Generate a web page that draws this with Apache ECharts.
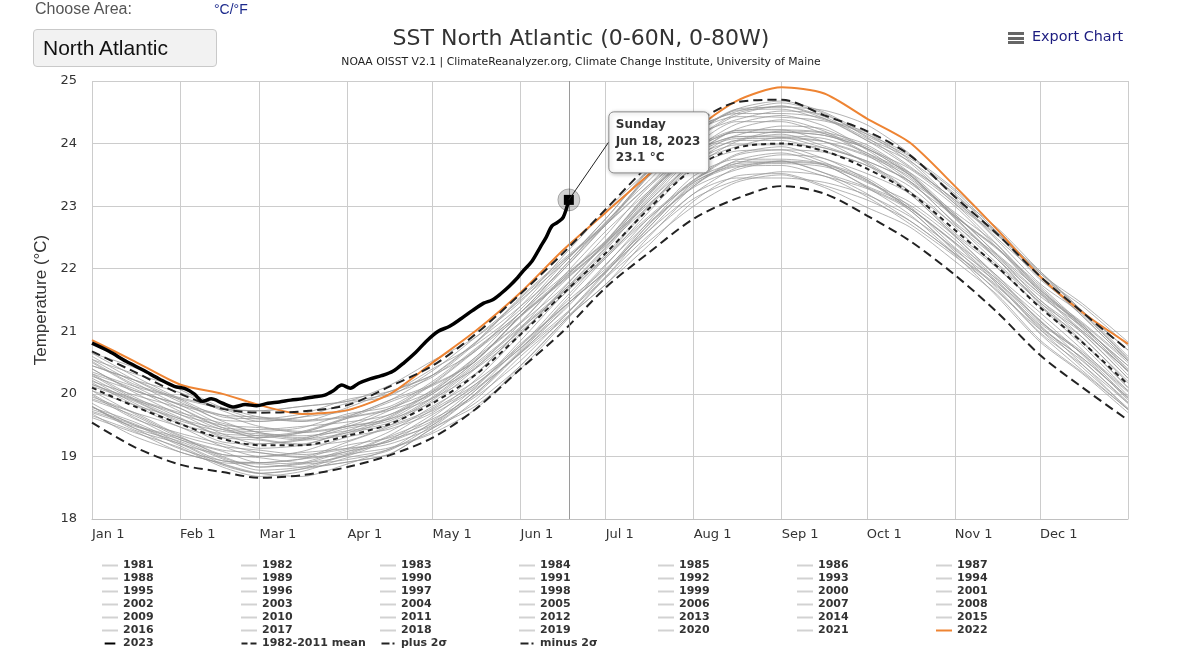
<!DOCTYPE html>
<html><head><meta charset="utf-8">
<script src="https://cdn.jsdelivr.net/npm/echarts@6/dist/echarts.min.js"></script>
<style>
html,body{margin:0;padding:0;background:#fff;}
#wrap{position:relative;width:1200px;height:660px;overflow:hidden;}
#chart{position:absolute;left:0;top:0;width:1200px;height:660px;}
.ui{position:absolute;font-family:"Liberation Sans",Arial,sans-serif;white-space:nowrap;}
.bar{position:absolute;left:0;width:16px;height:3px;background:#666;}
</style></head>
<body><div id="wrap"><div id="chart"></div>
<div class="ui" style="left:35px;top:0px;font-size:16px;color:#555;">Choose Area:</div>
<div class="ui" style="left:214px;top:1px;font-size:14px;color:#1c2a8c;">°C/°F</div>
<div class="ui" style="left:33px;top:29px;width:184px;height:38px;box-sizing:border-box;border:1px solid #c9c9c9;border-radius:4px;background:#f2f2f2;font-size:21px;color:#111;line-height:36px;padding-left:9px;">North Atlantic</div>
<div class="ui" style="left:1008px;top:32px;width:16px;height:12px;"><div class="bar" style="top:0"></div><div class="bar" style="top:4.5px"></div><div class="bar" style="top:9px"></div></div>
<div class="ui" style="left:1032px;top:28px;font-size:14.4px;color:#1c1c80;font-family:'DejaVu Sans';">Export Chart</div>
</div>
<script>
// ---- axis data ----
const monthStarts = [0,31,59,90,120,151,181,212,243,273,304,334];
const monthLabels = ['Jan 1','Feb 1','Mar 1','Apr 1','May 1','Jun 1','Jul 1','Aug 1','Sep 1','Oct 1','Nov 1','Dec 1'];
const yTicks = [18,19,20,21,22,23,24,25];

// ---- sample days (day of year, 0 = Jan 1) for climatology / past years ----
const days = [0,15,31,46,59,74,90,105,120,135,151,166,181,196,212,227,243,258,273,288,304,319,334,349,365];

const mean8211 = [20.10,19.80,19.52,19.28,19.18,19.18,19.33,19.52,19.85,20.30,20.95,21.60,22.25,22.95,23.60,23.93,24.00,23.88,23.60,23.22,22.62,22.03,21.38,20.82,20.15];
const plus2s   = [20.68,20.35,20.00,19.76,19.70,19.72,19.82,20.12,20.45,20.95,21.60,22.25,22.95,23.65,24.30,24.66,24.70,24.45,24.20,23.82,23.15,22.55,21.88,21.30,20.70];
const minus2s  = [19.54,19.15,18.87,18.75,18.66,18.70,18.83,19.02,19.30,19.75,20.40,21.00,21.70,22.25,22.80,23.12,23.32,23.20,22.85,22.45,21.90,21.30,20.62,20.10,19.58];

const sst1981 = [19.80,19.45,19.24,18.96,18.78,18.83,19.03,19.14,19.40,19.90,20.60,21.18,21.75,22.50,23.20,23.45,23.45,23.38,23.18,22.84,22.32,21.68,20.98,20.46,19.85];
const sst1982 = [19.65,19.40,19.07,18.90,18.88,18.83,18.91,19.04,19.45,19.80,20.40,21.12,21.85,22.43,23.00,23.38,23.50,23.30,22.98,22.67,22.12,21.58,20.86,20.34,19.75];
const sst1983 = [19.72,19.50,19.17,18.86,18.73,18.80,19.03,19.27,19.50,20.00,20.67,21.25,21.87,22.65,23.35,23.63,23.65,23.48,23.28,22.94,22.27,21.63,21.03,20.52,19.87];
const sst1984 = [19.80,19.45,19.12,18.93,18.90,18.88,18.95,19.10,19.50,20.05,20.65,21.22,21.93,22.70,23.30,23.58,23.72,23.66,23.30,22.87,22.24,21.71,21.10,20.47,19.75];
const sst1985 = [19.68,19.32,19.07,18.88,18.73,18.68,18.88,19.12,19.37,19.75,20.45,21.15,21.75,22.37,23.08,23.48,23.52,23.33,23.10,22.77,22.22,21.55,20.83,20.32,19.70];
const sst1986 = [19.62,19.38,19.14,18.83,18.68,18.76,18.98,19.12,19.55,19.95,20.53,21.22,21.95,22.60,23.20,23.61,23.72,23.53,23.20,22.77,22.24,21.73,21.03,20.42,19.77];
const sst1987 = [19.75,19.52,19.20,19.03,18.98,18.90,19.01,19.27,19.67,20.08,20.65,21.35,22.07,22.73,23.32,23.73,23.85,23.66,23.32,23.02,22.47,21.81,21.13,20.64,19.93];
const sst1988 = [19.85,19.50,19.30,19.00,18.83,18.88,19.08,19.20,19.47,20.00,20.70,21.42,22.00,22.65,23.38,23.65,23.68,23.63,23.40,22.94,22.30,21.78,21.18,20.54,19.85];
const sst1989 = [19.78,19.55,19.22,18.93,18.90,18.96,19.05,19.32,19.60,19.98,20.67,21.38,21.95,22.70,23.42,23.68,23.70,23.66,23.42,22.97,22.40,21.75,21.06,20.57,19.95];
const sst1990 = [19.90,19.65,19.30,19.10,19.06,18.98,19.08,19.34,19.75,20.15,20.73,21.45,22.17,22.80,23.40,23.81,23.90,23.70,23.38,23.07,22.52,21.85,21.16,20.67,20.05];
const sst1991 = [20.00,19.62,19.27,19.08,18.90,18.96,19.18,19.30,19.57,20.10,20.80,21.38,21.97,22.75,23.48,23.75,23.75,23.68,23.45,23.00,22.34,21.83,21.23,20.62,19.90];
const sst1992 = [19.80,19.42,19.20,18.88,18.73,18.80,18.91,19.04,19.45,19.85,20.45,21.15,21.87,22.53,23.12,23.41,23.55,23.48,23.15,22.72,22.20,21.65,20.96,20.37,19.75];
const sst1993 = [19.70,19.48,19.27,18.98,18.83,18.90,19.11,19.24,19.53,20.05,20.77,21.38,21.95,22.60,23.32,23.71,23.72,23.53,23.30,22.97,22.42,21.78,21.08,20.57,19.93];
const sst1994 = [19.95,19.70,19.34,19.16,19.10,19.03,19.13,19.40,19.80,20.20,20.77,21.50,22.20,22.83,23.42,23.83,23.95,23.76,23.52,23.20,22.52,21.88,21.30,20.70,19.97];
const sst1995 = [19.98,19.60,19.37,19.20,19.06,19.00,19.23,19.47,19.73,20.12,20.85,21.58,22.17,22.90,23.62,23.88,23.90,23.86,23.65,23.20,22.54,22.01,21.40,20.77,20.05];
const sst1996 = [20.05,19.68,19.32,19.03,19.00,19.06,19.13,19.24,19.63,20.15,20.73,21.32,22.05,22.80,23.38,23.68,23.82,23.76,23.42,22.97,22.42,21.88,21.16,20.64,20.03];
const sst1997 = [19.92,19.70,19.47,19.16,19.00,19.08,19.31,19.44,19.70,20.22,20.95,21.65,22.23,23.00,23.70,23.98,23.98,23.93,23.70,23.24,22.57,22.05,21.46,20.84,20.10];
const sst1998 = [20.15,19.90,19.67,19.36,19.20,19.28,19.48,19.60,19.87,20.40,21.13,21.85,22.43,23.07,23.80,24.21,24.22,24.03,23.80,23.47,22.80,22.15,21.46,20.97,20.25];
const sst1999 = [20.18,19.82,19.47,19.30,19.26,19.18,19.25,19.50,19.90,20.42,21.00,21.58,22.30,23.07,23.68,23.95,24.10,24.03,23.68,23.24,22.70,22.15,21.43,20.82,20.10];
const sst2000 = [20.05,19.82,19.60,19.30,19.13,19.18,19.38,19.50,19.77,20.30,21.03,21.62,22.20,22.97,23.68,24.05,24.05,23.88,23.65,23.32,22.67,22.01,21.40,20.90,20.17];
const sst2001 = [20.12,19.88,19.54,19.23,19.20,19.26,19.45,19.57,19.95,20.48,21.07,21.65,22.35,23.13,23.85,24.11,24.12,24.08,23.85,23.40,22.74,22.21,21.60,20.97,20.25];
const sst2002 = [20.25,19.90,19.57,19.40,19.36,19.28,19.38,19.64,20.03,20.40,20.97,21.68,22.40,23.03,23.62,24.03,24.15,23.96,23.72,23.40,22.72,22.08,21.50,20.90,20.20];
const sst2003 = [20.15,19.92,19.70,19.53,19.38,19.30,19.51,19.77,20.05,20.58,21.30,21.88,22.45,23.23,23.95,24.35,24.35,24.16,23.95,23.52,22.84,22.31,21.70,21.07,20.35];
const sst2004 = [20.32,19.95,19.62,19.33,19.30,19.38,19.48,19.60,20.00,20.52,21.23,21.80,22.40,23.17,23.90,24.18,24.18,24.13,23.92,23.50,22.82,22.18,21.60,21.10,20.37];
const sst2005 = [20.28,20.05,19.82,19.50,19.33,19.40,19.63,19.90,20.15,20.52,21.25,21.98,22.70,23.33,23.90,24.31,24.45,24.28,23.92,23.60,23.04,22.38,21.66,21.14,20.53];
const sst2006 = [20.40,20.02,19.67,19.50,19.46,19.38,19.48,19.74,20.15,20.68,21.25,21.82,22.53,23.30,23.88,24.13,24.28,24.23,23.90,23.44,22.90,22.38,21.68,21.07,20.45];
const sst2007 = [20.30,19.92,19.60,19.43,19.28,19.20,19.41,19.67,19.93,20.32,21.05,21.78,22.37,23.00,23.72,24.11,24.10,23.93,23.72,23.40,22.87,22.21,21.50,21.00,20.37];
const sst2008 = [20.20,19.98,19.77,19.46,19.30,19.38,19.61,19.74,20.00,20.52,21.25,21.85,22.43,23.20,23.92,24.21,24.22,24.18,23.98,23.54,22.87,22.23,21.66,21.04,20.30];
const sst2009 = [20.22,19.85,19.52,19.36,19.33,19.26,19.35,19.62,20.03,20.55,21.13,21.70,22.43,23.20,23.80,24.05,24.20,24.16,23.82,23.37,22.84,22.33,21.63,21.00,20.37];
const sst2010 = [20.35,20.12,19.92,19.76,19.60,19.68,19.91,20.04,20.30,20.82,21.55,22.15,22.73,23.50,24.22,24.48,24.48,24.40,24.05,23.62,23.10,22.45,21.76,21.27,20.55];
const sst2011 = [20.50,20.12,19.77,19.46,19.43,19.48,19.55,19.67,20.07,20.58,21.15,21.88,22.60,23.23,23.82,24.23,24.38,24.20,23.85,23.54,23.00,22.33,21.63,21.12,20.50];
const sst2012 = [20.45,20.22,19.90,19.58,19.56,19.63,19.73,20.00,20.40,20.78,21.35,22.08,22.80,23.55,24.12,24.38,24.52,24.46,24.10,23.64,23.10,22.58,21.86,21.24,20.53];
const sst2013 = [20.40,20.05,19.84,19.66,19.48,19.40,19.61,19.87,20.13,20.52,21.25,21.82,22.40,23.17,23.90,24.18,24.18,24.13,23.92,23.50,22.84,22.33,21.73,21.10,20.40];
const sst2014 = [20.32,20.08,19.72,19.43,19.40,19.46,19.68,19.80,20.20,20.72,21.30,22.02,22.75,23.40,24.12,24.53,24.55,24.38,24.18,23.74,23.07,22.55,21.96,21.32,20.60];
const sst2015 = [20.55,20.18,19.82,19.66,19.63,19.58,19.65,19.90,20.30,20.82,21.40,21.98,22.70,23.47,24.05,24.45,24.60,24.43,24.08,23.77,23.24,22.58,21.88,21.40,20.77];
const sst2016 = [20.65,20.42,20.07,19.76,19.73,19.80,19.88,20.00,20.27,20.80,21.53,22.12,22.70,23.47,24.18,24.43,24.42,24.36,24.15,23.70,23.04,22.53,21.93,21.30,20.57];
const sst2017 = [20.52,20.15,19.94,19.78,19.63,19.56,19.78,20.04,20.30,20.68,21.40,22.12,22.70,23.33,24.05,24.48,24.60,24.40,24.05,23.72,23.20,22.55,21.83,21.32,20.70];
const sst2018 = [20.60,20.22,19.87,19.56,19.38,19.33,19.41,19.54,19.93,20.45,21.05,21.62,22.33,23.10,23.82,24.08,24.08,24.03,23.82,23.50,22.82,22.15,21.56,21.07,20.45];
const sst2019 = [20.45,20.22,20.02,19.73,19.56,19.63,19.85,19.97,20.37,20.90,21.50,22.08,22.80,23.57,24.15,24.55,24.68,24.50,24.15,23.82,23.14,22.48,21.88,21.24,20.53];
const sst2020 = [20.55,20.32,20.10,19.78,19.73,19.80,19.88,20.14,20.53,20.90,21.47,22.20,22.93,23.57,24.15,24.55,24.58,24.53,24.30,23.84,23.17,22.65,21.96,21.32,20.70];
const sst2021 = [20.65,20.28,19.92,19.63,19.60,19.56,19.63,19.77,20.17,20.70,21.30,22.02,22.73,23.50,24.22,24.51,24.65,24.48,24.12,23.80,23.27,22.63,21.93,21.44,20.83];
const sst2022 = [20.86,20.52,20.15,20.00,19.82,19.68,19.74,20.00,20.50,21.00,21.62,22.30,22.90,23.50,24.20,24.68,24.90,24.80,24.40,24.02,23.32,22.62,21.88,21.30,20.80];

// ---- 2023 (to Jun 18) ----
const days2023 = [0,6,12,18,24,29,33,36,39,42,46,50,54,58,62,66,70,74,78,82,85,88,91,94,98,102,106,110,114,118,122,126,130,134,138,141,144,147,150,152,155,158,160,162,164,166,168];
const sst2023  = [20.81,20.68,20.52,20.38,20.23,20.12,20.08,20.00,19.88,19.92,19.85,19.79,19.83,19.81,19.85,19.87,19.90,19.92,19.95,19.98,20.05,20.14,20.09,20.17,20.24,20.29,20.36,20.50,20.66,20.85,21.00,21.08,21.20,21.33,21.45,21.50,21.60,21.72,21.86,21.97,22.12,22.35,22.50,22.68,22.74,22.82,23.10];

const greyNames = [];
for (let y = 1981; y <= 2021; y++) greyNames.push(String(y));
const greyValues = [sst1981,sst1982,sst1983,sst1984,sst1985,sst1986,sst1987,sst1988,sst1989,sst1990,
  sst1991,sst1992,sst1993,sst1994,sst1995,sst1996,sst1997,sst1998,sst1999,sst2000,
  sst2001,sst2002,sst2003,sst2004,sst2005,sst2006,sst2007,sst2008,sst2009,sst2010,
  sst2011,sst2012,sst2013,sst2014,sst2015,sst2016,sst2017,sst2018,sst2019,sst2020,sst2021];

const FONT = '"DejaVu Sans", "Lucida Grande", sans-serif';
const pair = (xs, ys) => xs.map((d, i) => [d, ys[i]]);

const series = [];
greyNames.forEach((name, i) => {
  series.push({
    name, type: 'line', data: pair(days, greyValues[i]), symbol: 'none', smooth: 0.25,
    silent: true, z: 2,
    itemStyle: { color: '#d2d2d2' },
    lineStyle: { width: 1, color: 'rgba(150,150,150,0.72)' }
  });
});
series.push({ name: '2022', type: 'line', data: pair(days, sst2022), symbol: 'none', smooth: 0.25, silent: true, z: 3,
  itemStyle: { color: '#ee8433' }, lineStyle: { width: 2, color: '#ee8433' } });
series.push({ name: '1982-2011 mean', type: 'line', data: pair(days, mean8211), symbol: 'none', smooth: 0.3, silent: true, z: 4,
  itemStyle: { color: '#222' }, lineStyle: { width: 2, color: '#222', type: [5, 4] } });
series.push({ name: 'plus 2σ', type: 'line', data: pair(days, plus2s), symbol: 'none', smooth: 0.3, silent: true, z: 4,
  itemStyle: { color: '#222' }, lineStyle: { width: 2, color: '#222', type: [9, 5] } });
series.push({ name: 'minus 2σ', type: 'line', data: pair(days, minus2s), symbol: 'none', smooth: 0.3, silent: true, z: 4,
  itemStyle: { color: '#222' }, lineStyle: { width: 2, color: '#222', type: [9, 5] } });

const lastDay = days2023[days2023.length - 1];
const lastVal = sst2023[sst2023.length - 1];
series.push({ name: '2023', type: 'line', data: pair(days2023, sst2023), symbol: 'none', smooth: 0.3, silent: true, z: 6,
  itemStyle: { color: '#000' }, lineStyle: { width: 3.5, color: '#000' },
  markLine: { silent: true, symbol: ['none', 'none'], label: { show: false }, animation: false,
    lineStyle: { color: '#9a9a9a', width: 1, type: 'solid' }, data: [{ xAxis: lastDay }] },
  markPoint: { silent: true, animation: false, label: { show: false }, data: [
    { coord: [lastDay, lastVal], symbol: 'circle', symbolSize: 22, itemStyle: { color: 'rgba(0,0,0,0.18)', borderColor: 'rgba(0,0,0,0.25)', borderWidth: 1 } },
    { coord: [lastDay, lastVal], symbol: 'rect', symbolSize: 10, itemStyle: { color: '#000' } }
  ] }
});

// legends: 7 columns
const ICON_LINE = 'path://M0,0H16V2H0Z';
const ICON_THICK = 'path://M0,0H16V3H0Z';
const ICON_DASH = 'path://M0,0H6V2H0Z M9,0H15V2H9Z';
const ICON_DASHDOT = 'path://M0,0H8V2H0Z M11,0H13V2H11Z';
const colX = [102, 241, 380, 519, 658, 797, 936];
const lastRow = [
  { name: '2023', icon: ICON_THICK, itemStyle: { color: '#000' } },
  { name: '1982-2011 mean', icon: ICON_DASH, itemStyle: { color: '#222' } },
  { name: 'plus 2σ', icon: ICON_DASHDOT, itemStyle: { color: '#222' } },
  { name: 'minus 2σ', icon: ICON_DASHDOT, itemStyle: { color: '#222' } }
];
const legends = colX.map((x, c) => {
  const items = [];
  for (let r = 0; r < 6; r++) {
    const nm = String(1981 + c + r * 7);
    items.push({ name: nm, icon: ICON_LINE, itemStyle: { color: nm === '2022' ? '#ee8433' : '#d2d2d2' } });
  }
  if (c < lastRow.length) items.push(lastRow[c]);
  return {
    orient: 'vertical', left: x, top: 559, padding: 0, itemGap: 0, itemWidth: 16, itemHeight: 2,
    selectedMode: false, data: items,
    textStyle: { fontFamily: FONT, fontSize: 11, fontWeight: 'bold', color: '#333', lineHeight: 13 }
  };
});

const chart = echarts.init(document.getElementById('chart'));
chart.setOption({
  animation: false,
  backgroundColor: 'transparent',
  title: {
    text: 'SST North Atlantic (0-60N, 0-80W)',
    subtext: 'NOAA OISST V2.1 | ClimateReanalyzer.org, Climate Change Institute, University of Maine',
    left: 576, top: 23, textAlign: 'center', itemGap: 7,
    textStyle: { fontFamily: FONT, fontSize: 22, fontWeight: 'normal', color: '#333' },
    subtextStyle: { fontFamily: FONT, fontSize: 10.8, color: '#222' }
  },
  legend: legends,
  grid: { left: 92, right: 72, top: 81, bottom: 141, containLabel: false },
  xAxis: {
    type: 'value', min: 0, max: 365,
    axisLine: { show: true, lineStyle: { color: '#c0c0c0' } },
    axisTick: { show: false, customValues: monthStarts.concat([365]) },
    axisLabel: {
      customValues: monthStarts, align: 'left', margin: 9, color: '#333', fontSize: 13, fontFamily: FONT,
      formatter: v => monthLabels[monthStarts.indexOf(v)] || ''
    },
    splitLine: { show: true, lineStyle: { color: '#cccccc', width: 1 } }
  },
  yAxis: {
    type: 'value', min: yTicks[0], max: yTicks[yTicks.length - 1], interval: 1,
    name: 'Temperature (°C)', nameLocation: 'middle', nameGap: 42,
    nameTextStyle: { fontFamily: '"Liberation Sans", Arial, sans-serif', fontSize: 17, color: '#333' },
    axisLine: { show: false }, axisTick: { show: false },
    axisLabel: { color: '#333', fontSize: 13, margin: 15, fontFamily: FONT },
    splitLine: { lineStyle: { color: '#cccccc', width: 1 } }
  },
  series
});

// callout annotation (Highcharts-style tooltip) anchored to the last 2023 point
const pt = chart.convertToPixel({ xAxisIndex: 0, yAxisIndex: 0 }, [lastDay, lastVal]);
const dt = new Date(2023, 0, 1 + lastDay);
const wd = ['Sunday','Monday','Tuesday','Wednesday','Thursday','Friday','Saturday'][dt.getDay()];
const mo = ['Jan','Feb','Mar','Apr','May','Jun','Jul','Aug','Sep','Oct','Nov','Dec'][dt.getMonth()];
const tipText = wd + '\n' + mo + ' ' + dt.getDate() + ', ' + dt.getFullYear() + '\n' + lastVal.toFixed(1) + ' °C';
chart.setOption({
  graphic: [
    { type: 'line', z: 100, shape: { x1: pt[0], y1: pt[1], x2: pt[0] + 40, y2: pt[1] - 58 }, style: { stroke: '#222', lineWidth: 1 } },
    { type: 'rect', z: 100, shape: { x: pt[0] + 40, y: pt[1] - 88, width: 100, height: 61, r: 5 },
      style: { fill: '#fff', stroke: '#8a8a8a', lineWidth: 1, shadowBlur: 4, shadowColor: 'rgba(0,0,0,0.25)', shadowOffsetX: 1, shadowOffsetY: 1 } },
    { type: 'text', z: 101, x: pt[0] + 47, y: pt[1] - 83,
      style: { text: tipText, font: 'bold 12px "DejaVu Sans"', fill: '#333', lineHeight: 16.5 } }
  ]
});
</script>
</body></html>
